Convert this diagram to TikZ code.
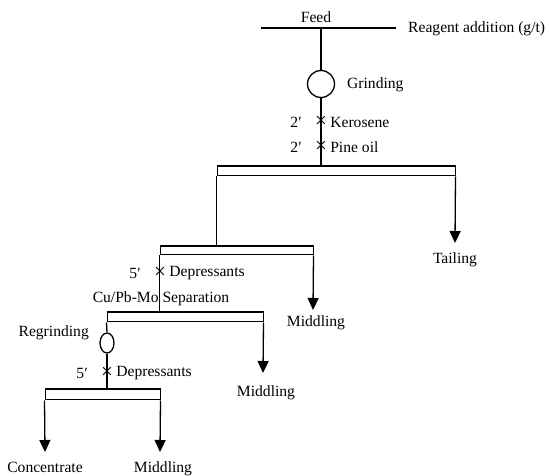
\documentclass[tikz,border=0pt]{standalone}
\usepackage{fontspec}
\setmainfont{Liberation Serif}
\usetikzlibrary{arrows.meta,shapes.geometric,positioning}
\tikzset{
  pipe/.style={line width=1.3pt},
  flow/.style={line width=1.3pt,-{Triangle[width=11pt,length=12pt]}},
  cell/.style={draw,line width=1pt,rectangle,inner sep=0pt,minimum height=9pt},
  celltop/.style={line width=2pt},
  dose/.style={inner sep=0pt,font=\fontsize{21}{21}\selectfont},
  txt/.style={inner sep=0pt},
}
\begin{document}
\begin{tikzpicture}[x=1pt,y=-1pt,font=\fontsize{15.6}{18}\selectfont]
\useasboundingbox (0,0) rectangle (550,476);
% feed line and grinding
\coordinate (feedL) at (261,28);
\coordinate (feedR) at (396,28);
\coordinate (feedJ) at (321,28);
\draw[pipe] (feedL) -- (feedR);
\node[txt] (feed) at (316,17) {Feed};
\node[txt,anchor=west] (reagent) at (408,29) {Reagent addition (g/t)};
\node[draw,circle,line width=1.3pt,minimum size=27pt,inner sep=0pt] (grind) at (321,84) {};
\node[txt,anchor=west] (grindlbl) at (347,85) {Grinding};
\draw[pipe] (feedJ) -- (grind.north);
% rougher cell
\node[cell,minimum width=238pt] (bank1) at (336,171.5) {};
\draw[celltop] (bank1.north west) -- (bank1.north east);
\draw[pipe] (grind.south) -- (grind.south |- bank1.north);
\node[dose] (kero) at (321,122) {×};
\node[dose] (pine) at (321,147) {×};
\node[txt,left=13pt of kero] (keroamt) {2′};
\node[txt,right=3pt of kero] (kerolbl) {Kerosene};
\node[txt,left=13pt of pine] (pineamt) {2′};
\node[txt,right=3pt of pine] (pinelbl) {Pine oil};
\coordinate (tailtip) at (455,243);
\node[txt] (tail) at (455,260) {Tailing};
\draw[flow] (bank1.south east) -- (tailtip);
% Cu/Pb-Mo separation
\node[cell,minimum width=153pt,minimum height=8pt] (bank2) at (236.5,251) {};
\draw[celltop] (bank2.north west) -- (bank2.north east);
\draw[pipe] (bank1.south west) -- (bank1.south west |- bank2.north);
\coordinate (mid1tip) at (313,310);
\node[txt] (mid1) at (316,323) {Middling};
\draw[flow] (bank2.south east) -- (mid1tip);
\node[cell,minimum width=156pt] (bank3) at (185,317.5) {};
\draw[celltop] (bank3.north west) -- (bank3.north east);
\draw[pipe] (bank2.south west) -- (bank2.south west |- bank3.north);
\node[dose] (dep1) at (160,273) {×};
\node[txt,left=13pt of dep1] (dep1amt) {5′};
\node[txt,right=3pt of dep1] (dep1lbl) {Depressants};
\node[txt] (seplbl) at (161,299) {Cu/Pb-Mo Separation};
\coordinate (mid2tip) at (263,373);
\node[txt] (mid2) at (266,393) {Middling};
\draw[flow] (bank3.south east) -- (mid2tip);
% regrinding and cleaner
\node[draw,ellipse,line width=1.3pt,minimum width=14pt,minimum height=20pt,inner sep=0pt] (regrind) at (107,343) {};
\node[txt,anchor=east] (regrindlbl) at (89,333) {Regrinding};
\node[cell,minimum width=115pt,minimum height=10pt] (bank4) at (102.5,395) {};
\draw[celltop] (bank4.north west) -- (bank4.north east);
\draw[pipe] (bank3.south west) -- (regrind.north);
\draw[pipe] (regrind.south) -- (regrind.south |- bank4.north);
\node[dose] (dep2) at (107,373) {×};
\node[txt,left=13pt of dep2] (dep2amt) {5′};
\node[txt,right=3pt of dep2] (dep2lbl) {Depressants};
\coordinate (conctip) at (45,452);
\coordinate (mid3tip) at (160,452);
\node[txt] (conc) at (45,467) {Concentrate};
\node[txt] (mid3) at (163,469) {Middling};
\draw[flow] (bank4.south west) -- (conctip);
\draw[flow] (bank4.south east) -- (mid3tip);
\end{tikzpicture}
\end{document}
